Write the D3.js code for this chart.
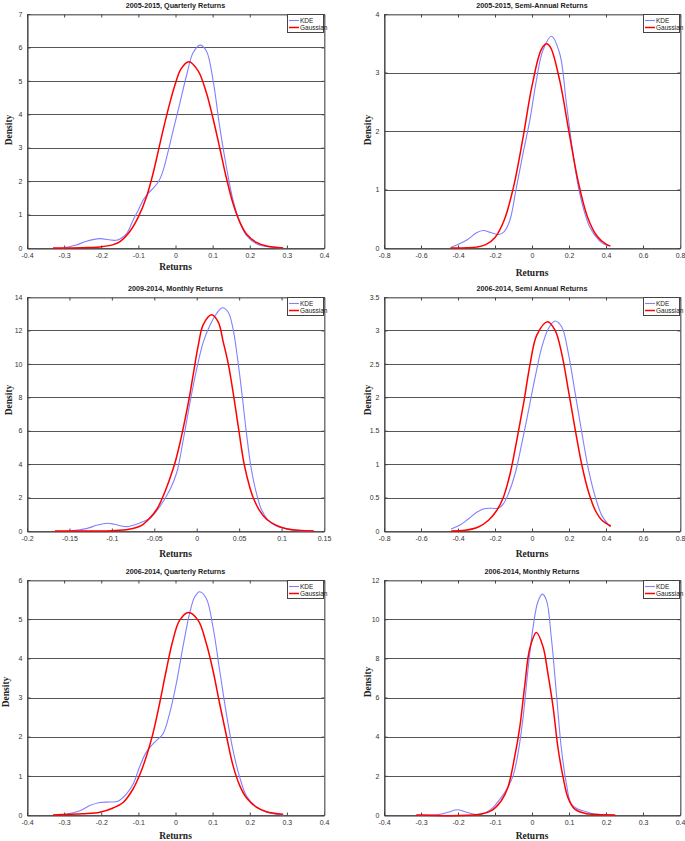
<!DOCTYPE html>
<html><head><meta charset="utf-8">
<script src="https://cdn.jsdelivr.net/npm/d3@7"></script>
<style>
body{margin:0;background:#fff;}
svg{display:block;}
</style></head>
<body>
<script>
// ---------- data ----------
const titles = [
  "2005-2015, Quarterly Returns",
  "2005-2015, Semi-Annual Returns",
  "2009-2014, Monthly Returns",
  "2006-2014, Semi Annual Returns",
  "2006-2014, Quarterly Returns",
  "2006-2014, Monthly Returns"
];
const seriesNames = ["KDE", "Gaussian"];
const xTicks1 = [-0.4,-0.3,-0.2,-0.1,0,0.1,0.2,0.3,0.4];
const xTicks2 = [-0.8,-0.6,-0.4,-0.2,0,0.2,0.4,0.6,0.8];
const xTicks3 = [-0.2,-0.15,-0.1,-0.05,0,0.05,0.1,0.15];
const yTicks1 = [0,1,2,3,4,5,6,7];
const yTicks2 = [0,1,2,3,4];
const yTicks3 = [0,2,4,6,8,10,12,14];
const yTicks4 = [0,0.5,1,1.5,2,2.5,3,3.5];
const yTicks5 = [0,1,2,3,4,5,6];
const yTicks6 = [0,2,4,6,8,10,12];

const kde1 = [[-0.303,0],[-0.27,0.08],[-0.24,0.2],[-0.204,0.28],[-0.175,0.24],[-0.16,0.23],[-0.1495,0.27],[-0.131,0.44],[-0.114,0.84],[-0.1,1.14],[-0.0867,1.44],[-0.073,1.64],[-0.06,1.79],[-0.046,1.98],[-0.033,2.33],[-0.019,2.93],[-0.006,3.53],[0.011,4.3],[0.029,5.13],[0.047,5.83],[0.066,6.07],[0.083,5.9],[0.101,5.03],[0.119,3.63],[0.137,2.43],[0.155,1.43],[0.173,0.78],[0.191,0.38],[0.218,0.13],[0.254,0.03],[0.29,0]];
const gauss1 = [[-0.33,0],[-0.249,0.01],[-0.204,0.03],[-0.168,0.1],[-0.1495,0.19],[-0.1226,0.5],[-0.1,0.93],[-0.0776,1.55],[-0.06,2.25],[-0.046,2.92],[-0.033,3.55],[-0.015,4.35],[0,4.93],[0.015,5.36],[0.036,5.57],[0.061,5.3],[0.083,4.65],[0.101,3.88],[0.119,3.0],[0.137,2.1],[0.155,1.33],[0.173,0.78],[0.191,0.42],[0.218,0.17],[0.245,0.06],[0.29,0]];

const kde2 = [[-0.44,0.01],[-0.40,0.06],[-0.35,0.14],[-0.30,0.26],[-0.265,0.30],[-0.22,0.26],[-0.18,0.23],[-0.15,0.28],[-0.12,0.47],[-0.084,1.04],[-0.049,1.61],[-0.012,2.18],[0.024,2.87],[0.059,3.38],[0.105,3.62],[0.150,3.32],[0.186,2.47],[0.222,1.61],[0.258,0.93],[0.312,0.36],[0.36,0.14],[0.384,0.075],[0.42,0.03]];
const gauss2 = [[-0.44,0],[-0.35,0.003],[-0.30,0.015],[-0.25,0.057],[-0.20,0.18],[-0.15,0.48],[-0.10,1.04],[-0.05,1.86],[0,2.77],[0.05,3.39],[0.078,3.49],[0.10,3.43],[0.15,2.86],[0.20,1.98],[0.25,1.13],[0.30,0.53],[0.35,0.21],[0.40,0.066],[0.424,0.036]];

const kde3 = [[-0.150,0],[-0.130,0.14],[-0.118,0.34],[-0.105,0.46],[-0.097,0.40],[-0.083,0.26],[-0.067,0.48],[-0.0548,0.78],[-0.043,1.5],[-0.0313,2.5],[-0.0235,3.5],[-0.0157,5.5],[-0.0079,7.7],[0,9.7],[0.0077,11.3],[0.0155,12.3],[0.0233,13.0],[0.0303,13.36],[0.037,13.1],[0.0428,12.1],[0.0487,10.1],[0.0538,8.0],[0.0585,5.9],[0.0643,3.7],[0.0702,2.3],[0.0761,1.3],[0.0839,0.66],[0.0936,0.3],[0.1053,0.14],[0.117,0.04],[0.137,0]];
const gauss3 = [[-0.167,0],[-0.12,0.005],[-0.10,0.02],[-0.08,0.1],[-0.065,0.34],[-0.0548,0.8],[-0.047,1.3],[-0.0403,2.0],[-0.033,2.95],[-0.0255,4.1],[-0.0205,5.1],[-0.0157,6.2],[-0.0087,8.0],[-0.004,9.4],[0.0018,11.1],[0.0077,12.35],[0.0176,12.94],[0.0254,12.5],[0.0313,11.3],[0.0372,10.0],[0.0438,8.0],[0.0497,6.0],[0.0559,4.0],[0.0626,2.6],[0.0665,2.0],[0.0743,1.2],[0.0822,0.7],[0.094,0.34],[0.1057,0.14],[0.12,0.04],[0.138,0]];

const kde4 = [[-0.437,0.03],[-0.389,0.09],[-0.344,0.18],[-0.299,0.28],[-0.263,0.33],[-0.217,0.34],[-0.181,0.34],[-0.154,0.41],[-0.127,0.56],[-0.091,0.86],[-0.055,1.31],[-0.019,1.80],[0.017,2.30],[0.053,2.75],[0.089,3.03],[0.125,3.14],[0.161,3.05],[0.197,2.65],[0.234,2.05],[0.270,1.46],[0.306,0.91],[0.342,0.51],[0.378,0.23],[0.423,0.06]];
const gauss4 = [[-0.437,0],[-0.362,0.01],[-0.29,0.06],[-0.235,0.16],[-0.19,0.31],[-0.154,0.51],[-0.118,0.86],[-0.082,1.36],[-0.046,1.90],[-0.01,2.50],[0.026,2.93],[0.084,3.13],[0.125,3.00],[0.161,2.65],[0.197,2.10],[0.234,1.51],[0.270,0.98],[0.306,0.58],[0.342,0.31],[0.378,0.16],[0.426,0.075]];

const kde5 = [[-0.303,0],[-0.258,0.11],[-0.231,0.24],[-0.204,0.32],[-0.177,0.33],[-0.155,0.35],[-0.132,0.54],[-0.114,0.79],[-0.097,1.22],[-0.079,1.60],[-0.056,1.86],[-0.034,2.07],[-0.016,2.59],[0.002,3.35],[0.020,4.29],[0.038,5.15],[0.052,5.57],[0.065,5.70],[0.083,5.53],[0.101,4.80],[0.119,3.69],[0.137,2.59],[0.155,1.65],[0.173,0.96],[0.191,0.49],[0.218,0.20],[0.254,0.05],[0.29,0]];
const gauss5 = [[-0.33,0],[-0.249,0.03],[-0.204,0.07],[-0.168,0.18],[-0.141,0.32],[-0.114,0.67],[-0.097,1.01],[-0.079,1.48],[-0.061,2.07],[-0.043,2.84],[-0.025,3.69],[-0.007,4.46],[0.011,4.97],[0.035,5.17],[0.061,4.97],[0.083,4.38],[0.101,3.69],[0.119,2.84],[0.137,2.03],[0.155,1.26],[0.173,0.75],[0.191,0.44],[0.218,0.20],[0.245,0.085],[0.29,0.02]];

const kde6 = [[-0.308,0],[-0.254,0.02],[-0.227,0.14],[-0.202,0.27],[-0.177,0.14],[-0.146,0.02],[-0.128,0.09],[-0.105,0.39],[-0.083,0.90],[-0.065,1.42],[-0.051,2.01],[-0.038,3.12],[-0.024,5.0],[-0.011,7.39],[0.003,9.61],[0.016,10.89],[0.028,11.28],[0.039,10.97],[0.052,9.10],[0.066,6.19],[0.079,3.46],[0.093,1.59],[0.106,0.56],[0.124,0.31],[0.142,0.19],[0.169,0.05],[0.214,0]];
const gauss6 = [[-0.313,0],[-0.146,0.02],[-0.110,0.22],[-0.083,0.73],[-0.065,1.42],[-0.047,2.95],[-0.033,4.49],[-0.020,6.54],[-0.006,8.50],[0.012,9.32],[0.030,8.58],[0.043,7.22],[0.057,5.51],[0.070,3.46],[0.084,1.93],[0.097,0.90],[0.115,0.31],[0.142,0.09],[0.178,0.02],[0.225,0]];

// ---------- layout ----------
const W = 685, H = 841;
const panels = [
  {title:titles[0], kde:kde1, gauss:gauss1, xt:xTicks1, yt:yTicks1, L:27,  R:324, T:14,  B:248, dx:8,   dy:130, ry:266},
  {title:titles[1], kde:kde2, gauss:gauss2, xt:xTicks2, yt:yTicks2, L:384, R:680, T:14,  B:248, dx:367, dy:130, ry:272},
  {title:titles[2], kde:kde3, gauss:gauss3, xt:xTicks3, yt:yTicks3, L:27,  R:324, T:297, B:531, dx:8,   dy:400, ry:553},
  {title:titles[3], kde:kde4, gauss:gauss4, xt:xTicks2, yt:yTicks4, L:384, R:680, T:297, B:531, dx:367, dy:400, ry:553},
  {title:titles[4], kde:kde5, gauss:gauss5, xt:xTicks1, yt:yTicks5, L:27,  R:324, T:580, B:815, dx:5,   dy:692, ry:835},
  {title:titles[5], kde:kde6, gauss:gauss6, xt:xTicks1, yt:yTicks6, L:384, R:680, T:580, B:815, dx:367, dy:682, ry:835}
];

const svg = d3.select("body").append("svg").attr("width", W).attr("height", H);
const fmt = d => (d === 0 ? "0" : String(+d.toFixed(2)));

panels.forEach(p => {
  const x = d3.scaleLinear().domain([p.xt[0], p.xt[p.xt.length-1]]).range([p.L, p.R]);
  const y = d3.scaleLinear().domain([p.yt[0], p.yt[p.yt.length-1]]).range([p.B, p.T]);
  const g = svg.append("g");

  // grid lines
  g.selectAll("line.grid").data(p.yt.slice(1, -1)).enter().append("line")
    .attr("x1", p.L).attr("x2", p.R).attr("y1", d => Math.round(y(d)) + 0.5).attr("y2", d => Math.round(y(d)) + 0.5)
    .attr("stroke", "#555").attr("stroke-width", 1);

  // box
  g.append("rect").attr("x", p.L + 0.5).attr("y", p.T + 0.5).attr("width", p.R - p.L).attr("height", p.B - p.T)
    .attr("fill", "none").attr("stroke", "#777").attr("stroke-width", 1);

  // axes
  const xa = g.append("g").attr("transform", `translate(0,${p.B + 0.5})`)
    .call(d3.axisBottom(x).tickValues(p.xt).tickFormat(fmt).tickSizeInner(-3).tickSizeOuter(0).tickPadding(5));
  const xt = g.append("g").attr("transform", `translate(0,${p.T + 0.5})`)
    .call(d3.axisTop(x).tickValues(p.xt).tickFormat("").tickSizeInner(-3).tickSizeOuter(0));
  const ya = g.append("g").attr("transform", `translate(${p.L + 0.5},0)`)
    .call(d3.axisLeft(y).tickValues(p.yt).tickFormat(fmt).tickSizeInner(-3).tickSizeOuter(0).tickPadding(5));
  const yr = g.append("g").attr("transform", `translate(${p.R + 0.5},0)`)
    .call(d3.axisRight(y).tickValues(p.yt).tickFormat("").tickSizeInner(-3).tickSizeOuter(0));
  [xa, ya].forEach(a => a.select(".domain").attr("stroke", "#333"));
  [xt, yr].forEach(a => a.select(".domain").attr("stroke", "#777"));
  [xa, xt, ya, yr].forEach(a => {
    a.selectAll(".tick line").attr("stroke", "#444");
    a.selectAll("text").attr("font-family", "Liberation Sans, Arial, sans-serif").attr("font-size", 7).attr("fill", "#333");
  });

  // curves
  const line = d3.line().x(d => x(d[0])).y(d => y(d[1])).curve(d3.curveCatmullRom.alpha(0.5));
  g.append("path").datum(p.kde).attr("d", line).attr("fill", "none").attr("stroke", "#8080ff").attr("stroke-width", 1.1);
  g.append("path").datum(p.gauss).attr("d", line).attr("fill", "none").attr("stroke", "#ff0000").attr("stroke-width", 1.5);

  // title
  g.append("text").attr("x", (p.L + p.R) / 2).attr("y", p.T - 6).attr("text-anchor", "middle")
    .attr("font-family", "Liberation Sans, Arial, sans-serif").attr("font-weight", "bold").attr("font-size", 7.2).attr("fill", "#222")
    .text(p.title);
  // axis labels
  g.append("text").attr("x", (p.L + p.R) / 2).attr("y", p.ry + 3.5).attr("text-anchor", "middle")
    .attr("font-family", "Liberation Serif, Times New Roman, serif").attr("font-weight", "bold").attr("font-size", 9.5).attr("fill", "#222")
    .text("Returns");
  g.append("text").attr("transform", `translate(${p.dx + 3.5},${p.dy}) rotate(-90)`).attr("text-anchor", "middle")
    .attr("font-family", "Liberation Serif, Times New Roman, serif").attr("font-weight", "bold").attr("font-size", 9.5).attr("fill", "#222")
    .text("Density");

  // legend
  const lx = p.R - 37, ly = p.T;
  const lg = g.append("g").attr("transform", `translate(${lx},${ly})`);
  lg.append("rect").attr("x", 0.5).attr("y", 0.5).attr("width", 36).attr("height", 18)
    .attr("fill", "#fff").attr("stroke", "#444").attr("stroke-width", 1);
  const colors = ["#8080ff", "#ff0000"];
  seriesNames.forEach((n, i) => {
    const yy = 6.5 + i * 7;
    lg.append("line").attr("x1", 2).attr("x2", 12).attr("y1", yy).attr("y2", yy)
      .attr("stroke", colors[i]).attr("stroke-width", i ? 1.5 : 1.1);
    lg.append("text").attr("x", 13).attr("y", yy + 2.5)
      .attr("font-family", "Liberation Sans, Arial, sans-serif").attr("font-size", 6.5).attr("fill", "#222").text(n);
  });
});
</script>
</body></html>
